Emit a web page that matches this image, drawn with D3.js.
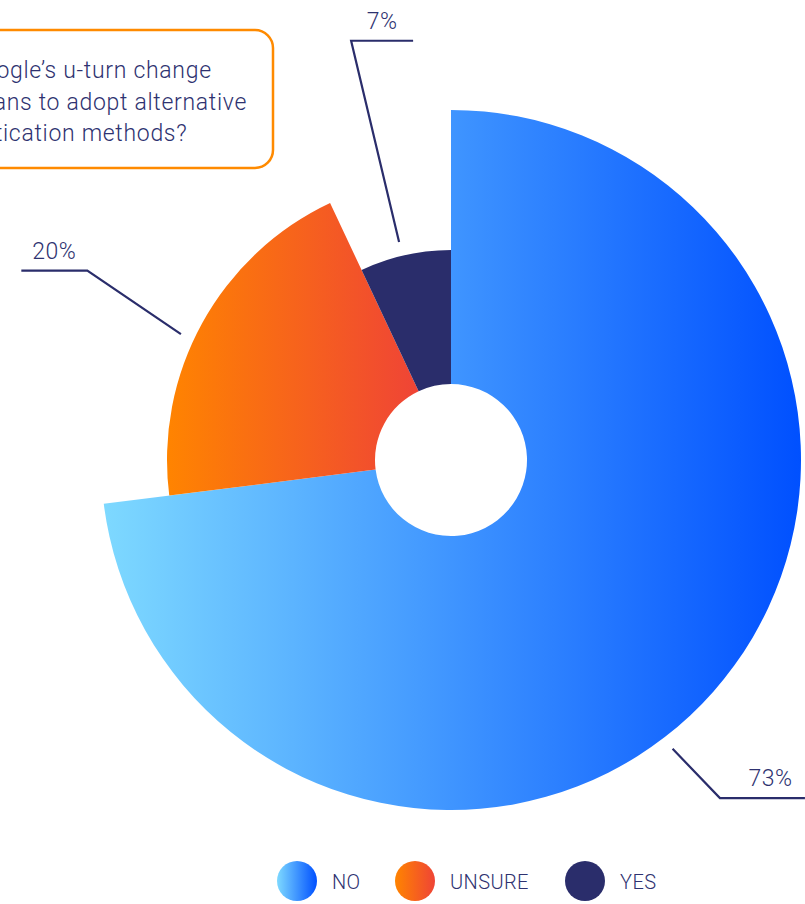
<!DOCTYPE html>
<html>
<head>
<meta charset="utf-8">
<script src="https://cdn.jsdelivr.net/npm/d3@7"></script>
<style>
  body { margin: 0; background: #fff; }
  svg { display: block; }
</style>
</head>
<body>
<div id="chart"></div>
<script>
// data
const categories = ['NO', 'UNSURE', 'YES'];
const shares = [73, 20, 7];
const labels = ['73%', '20%', '7%'];
const questionLines = ['Will Google\u2019s u-turn change', 'your plans to adopt alternative', 'authentication methods?'];

const width = 805, height = 904;
const cx = 451, cy = 460;
const textColor = '#2e3270';
const font = 'Roboto, "Open Sans", sans-serif';

// per slice look
const outerR = { NO: 350, UNSURE: 284, YES: 210 };
const innerR = 76;
const gradStops = {
    NO: ['#7ed9ff', '#0050ff'],
    UNSURE: ['#ff8400', '#ef4436'],
    YES: ['#2a2d6b', '#2a2d6b']
};
// leader line: start/elbow angle (deg from top, clockwise), elbow radius, flat part length
const leader = {
    NO: { a0: 142.5, a1: 141.5, r1: 432, flat: 85 },
    UNSURE: { a0: 295, a1: 297.5, r1: 410, flat: -66 },
    YES: { a0: 346.6, a1: 346.6, r1: 431, flat: 62 }
};

const svg = d3.select('#chart').append('svg')
    .attr('width', width).attr('height', height);

const defs = svg.append('defs');
categories.forEach(c => {
    const lg = defs.append('linearGradient').attr('id', 'grad-' + c)
        .attr('x1', 0).attr('y1', 0).attr('x2', 1).attr('y2', 0);
    lg.append('stop').attr('offset', 0).attr('stop-color', gradStops[c][0]);
    lg.append('stop').attr('offset', 1).attr('stop-color', gradStops[c][1]);
});

const data = categories.map((c, i) => ({ cat: c, value: shares[i], label: labels[i] }));

const pie = d3.pie().value(d => d.value).sort(null);
const arcs = pie(data);

const arc = d3.arc()
    .innerRadius(innerR)
    .outerRadius(d => outerR[d.data.cat]);

const g = svg.append('g').attr('transform', `translate(${cx},${cy})`);

g.selectAll('path.slice').data(arcs).enter().append('path')
    .attr('class', 'slice')
    .attr('d', arc)
    .attr('fill', d => `url(#grad-${d.data.cat})`);

// leader lines + labels
const polar = (deg, r) => [Math.sin(deg * Math.PI / 180) * r, -Math.cos(deg * Math.PI / 180) * r];
arcs.forEach(d => {
    const cat = d.data.cat;
    const L = leader[cat];
    const p0 = polar(L.a0, outerR[cat] + 14);
    const p1 = polar(L.a1, L.r1);
    const p2 = [p1[0] + L.flat, p1[1]];
    g.append('path')
        .attr('d', `M${p0[0]},${p0[1]} L${p1[0]},${p1[1]} L${p2[0]},${p2[1]}`)
        .attr('fill', 'none')
        .attr('stroke', '#2a2d6b')
        .attr('stroke-width', 2.2);
    g.append('text')
        .attr('x', (p1[0] + p2[0]) / 2 + (cat === 'NO' ? 8 : 0))
        .attr('y', p1[1] - 12)
        .attr('text-anchor', 'middle')
        .attr('font-family', font)
        .attr('font-weight', 300)
        .attr('font-size', '23px')
        .attr('letter-spacing', '0.5px')
        .attr('fill', textColor)
        .text(d.data.label);
});

// question box (runs off the left edge)
svg.append('rect')
    .attr('x', -40).attr('y', 30)
    .attr('width', 313).attr('height', 138)
    .attr('rx', 18)
    .attr('fill', '#fff')
    .attr('stroke', '#ff8a00')
    .attr('stroke-width', 2.5);

const qText = svg.append('text')
    .attr('font-family', font)
    .attr('font-weight', 300)
    .attr('font-size', '23px')
    .attr('letter-spacing', '0.7px')
    .attr('fill', textColor);
const tspans = qText.selectAll('tspan').data(questionLines).enter().append('tspan')
    .attr('y', (d, i) => 78 + i * 31.5)
    .text(d => d);
// line 2 ends at x~247, all lines share a left edge
const widest = tspans.nodes()[1].getComputedTextLength();
tspans.attr('x', 247 - widest);

// legend
const legendX = [297, 415, 585];
const legend = svg.append('g').selectAll('g').data(categories).enter().append('g')
    .attr('transform', (d, i) => `translate(${legendX[i]},881)`);
legend.append('circle').attr('r', 20).attr('fill', d => `url(#grad-${d})`);
legend.append('text')
    .attr('x', 35).attr('y', 8)
    .attr('font-family', font)
    .attr('font-weight', 300)
    .attr('font-size', '20px')
    .attr('letter-spacing', '0.4px')
    .attr('fill', textColor)
    .text(d => d);
</script>
</body>
</html>
